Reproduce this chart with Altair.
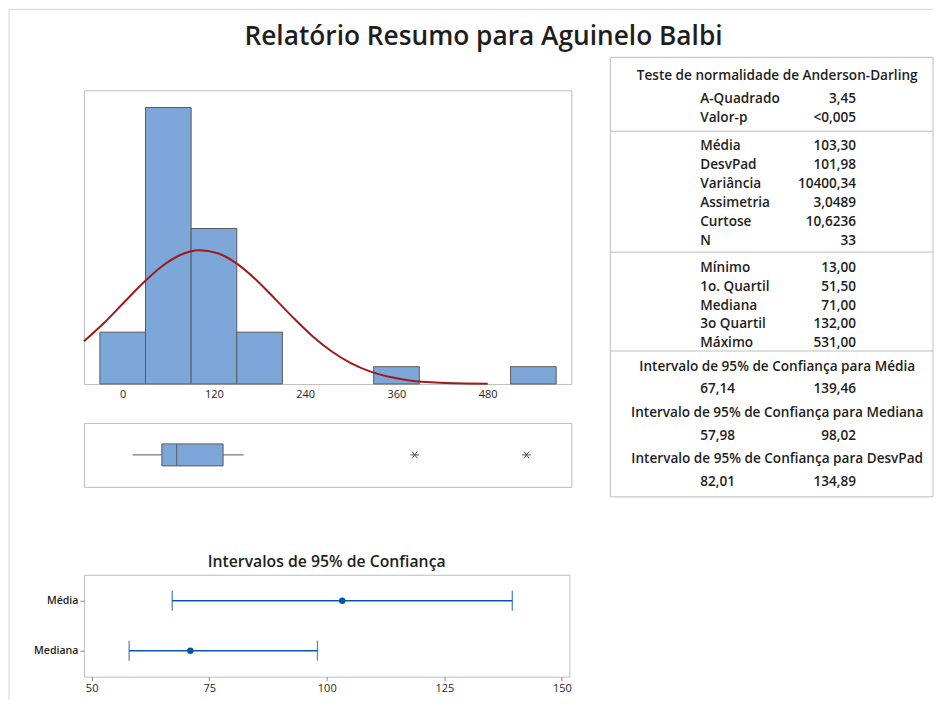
import altair as alt
import pandas as pd

# ---------------- data ----------------
bin_lo = [-30, 30, 90, 150, 330, 510]
bin_hi = [30, 90, 150, 210, 390, 570]
counts = [3, 16, 9, 3, 1, 1]

curve_x = [-51, -25, 0, 25, 50, 75, 100, 125, 150, 175, 200, 225, 250,
           275, 300, 325, 350, 375, 400, 425, 450, 480]
curve_y = [2.47, 3.51, 4.64, 5.77, 6.76, 7.45, 7.74, 7.57, 6.97, 6.05, 4.94,
           3.80, 2.75, 1.88, 1.21, 0.73, 0.42, 0.22, 0.11, 0.05, 0.02, 0.01]
hist_ticks = [0, 120, 240, 360, 480]

box_whisker_lo = 13
box_q1 = 51.5
box_median = 71
box_q3 = 132
box_whisker_hi = 159
outliers = [384, 531]

ci_labels = ["Média", "Mediana"]
ci_est = [103.30, 71.00]
ci_lo = [67.14, 57.98]
ci_hi = [139.46, 98.02]
ci_ticks = [50, 75, 100, 125, 150]

title_text = "Relatório Resumo para Aguinelo Balbi"
ci_title = "Intervalos de 95% de Confiança"

ad_header = "Teste de normalidade de Anderson-Darling"
ad_labels = ["A-Quadrado", "Valor-p"]
ad_values = ["3,45", "<0,005"]
mom_labels = ["Média", "DesvPad", "Variância", "Assimetria", "Curtose", "N"]
mom_values = ["103,30", "101,98", "10400,34", "3,0489", "10,6236", "33"]
q_labels = ["Mínimo", "1o. Quartil", "Mediana", "3o Quartil", "Máximo"]
q_values = ["13,00", "51,50", "71,00", "132,00", "531,00"]
ci_headers = ["Intervalo de 95% de Confiança para Média",
              "Intervalo de 95% de Confiança  para Mediana",
              "Intervalo de 95% de Confiança  para DesvPad"]
ci_tab_lo = ["67,14", "57,98", "82,01"]
ci_tab_hi = ["139,46", "98,02", "134,89"]

# ---------------- styles ----------------
FONT = "Open Sans"
TXT = "#1e1e1e"
BAR = "#7da7d9"
EDGE = "#5a5a5a"
FRAME = "#bdbdbd"
CURVE = "#9e1b1b"
BLUE = "#0a56a5"
ONE = pd.DataFrame({"o": [0]})


def txt(s, x, y, align="left", size=13.6, weight=600):
    return alt.Chart(pd.DataFrame({"t": [s]})).mark_text(
        align=align, baseline="middle", fontSize=size, fontWeight=weight,
        font=FONT, color=TXT
    ).encode(text="t:N", x=alt.value(x), y=alt.value(y))


def hline(x1, x2, y, color=FRAME):
    return alt.Chart(ONE).mark_rule(color=color, strokeWidth=1).encode(
        x=alt.value(x1), x2=alt.value(x2), y=alt.value(y))


def vline(x, y1, y2, color=FRAME):
    return alt.Chart(ONE).mark_rule(color=color, strokeWidth=1).encode(
        x=alt.value(x), y=alt.value(y1), y2=alt.value(y2))


# ---------------- histogram ----------------
HX = alt.Scale(domain=[-51, 590], nice=False, zero=False)
HY = alt.Scale(domain=[0, 17], nice=False, zero=True)

hist_df = pd.DataFrame({"lo": bin_lo, "hi": bin_hi, "n": counts})
curve_df = pd.DataFrame({"x": curve_x, "y": curve_y})

bars = alt.Chart(hist_df).mark_rect(fill=BAR, stroke=EDGE, strokeWidth=1).encode(
    x=alt.X("lo:Q", scale=HX, axis=alt.Axis(values=hist_ticks, domain=False, ticks=False,
                                            grid=False, title=None, labelFontSize=11,
                                            labelColor=TXT, labelFont=FONT, labelPadding=5)),
    x2="hi:Q",
    y=alt.Y("n:Q", scale=HY, axis=None),
    y2=alt.datum(0),
)
curve = alt.Chart(curve_df).mark_line(color=CURVE, strokeWidth=2, interpolate="monotone").encode(
    x=alt.X("x:Q", scale=HX), y=alt.Y("y:Q", scale=HY))

# stats table (positions relative to the histogram plot origin)
T_LEFT, T_RIGHT, T_TOP, T_BOT = 527, 850, -33, 407
LBL_X, VAL_X, MID_X = 617, 773, 694
layers = []
layers += [hline(T_LEFT, T_RIGHT, T_TOP), hline(T_LEFT, T_RIGHT, T_BOT),
           vline(T_LEFT, T_TOP, T_BOT), vline(T_RIGHT, T_TOP, T_BOT)]
for ys in [41, 162, 261]:
    layers.append(hline(T_LEFT, T_RIGHT, ys))

layers.append(txt(ad_header, MID_X, -14, align="center"))
for i, (l, v) in enumerate(zip(ad_labels, ad_values)):
    layers += [txt(l, LBL_X, 9 + 19 * i), txt(v, VAL_X, 9 + 19 * i, align="right")]
for i, (l, v) in enumerate(zip(mom_labels, mom_values)):
    layers += [txt(l, LBL_X, 56 + 19 * i), txt(v, VAL_X, 56 + 19 * i, align="right")]
for i, (l, v) in enumerate(zip(q_labels, q_values)):
    layers += [txt(l, LBL_X, 178 + 18.8 * i), txt(v, VAL_X, 178 + 18.8 * i, align="right")]
for i, (h, lo, hi) in enumerate(zip(ci_headers, ci_tab_lo, ci_tab_hi)):
    yh = 277 + 46.2 * i
    layers += [txt(h, MID_X, yh, align="center"),
               txt(lo, LBL_X, yh + 22.5), txt(hi, VAL_X, yh + 22.5, align="right")]

# main title and outer frame lines
layers.append(txt(title_text, 400, -53, align="center", size=26.3, weight=600))
layers.append(hline(-75, 850, -81, "#d4d4d4"))
layers.append(vline(-75, -81, 610, "#d4d4d4"))

hist = alt.layer(bars, curve, *layers).properties(width=488, height=294)

# ---------------- box plot ----------------
box_df = pd.DataFrame({"lo": [box_whisker_lo], "q1": [box_q1], "med": [box_median],
                       "q3": [box_q3], "hi": [box_whisker_hi]})
out_df = pd.DataFrame({"v": outliers})
ASTER = "M-1,0L1,0M-0.6,-0.8L0.6,0.8M-0.6,0.8L0.6,-0.8"

wl = alt.Chart(box_df).mark_rule(color=EDGE).encode(
    x=alt.X("lo:Q", scale=HX, axis=None), x2="q1:Q", y=alt.value(32))
wr = alt.Chart(box_df).mark_rule(color=EDGE).encode(
    x=alt.X("q3:Q", scale=HX, axis=None), x2="hi:Q", y=alt.value(32))
bx = alt.Chart(box_df).mark_rect(fill=BAR, stroke=EDGE, strokeWidth=1).encode(
    x=alt.X("q1:Q", scale=HX, axis=None), x2="q3:Q", y=alt.value(21), y2=alt.value(43))
md = alt.Chart(box_df).mark_rule(color=EDGE, strokeWidth=1).encode(
    x=alt.X("med:Q", scale=HX, axis=None), y=alt.value(21), y2=alt.value(43))
ol = alt.Chart(out_df).mark_point(shape=ASTER, size=75, stroke="#555555", strokeWidth=1,
                                  filled=False, opacity=1).encode(
    x=alt.X("v:Q", scale=HX, axis=None), y=alt.value(32))
box = alt.layer(wl, wr, bx, md, ol).properties(width=488, height=64)

# ---------------- spacer ----------------
spacer = alt.Chart(ONE).mark_point(opacity=0).encode(
    x=alt.X("o:Q", axis=None), y=alt.Y("o:Q", axis=None)
).properties(width=488, height=10, view=alt.ViewBackground(strokeOpacity=0))

# ---------------- confidence intervals ----------------
ci_df = pd.DataFrame({"lab": ci_labels, "est": ci_est, "lo": ci_lo, "hi": ci_hi})
CX = alt.Scale(domain=[48.36, 151.6], nice=False, zero=False)
CY = alt.Scale(type="point", padding=0.52, domain=ci_labels)
xax = alt.Axis(values=ci_ticks, domain=False, grid=False, tickSize=4, tickColor="#8c8c8c",
               labelFontSize=11, labelColor=TXT, labelFont=FONT, title=None, labelPadding=2)
yax = alt.Axis(domain=False, grid=False, tickSize=4, tickColor="#8c8c8c", labelFontSize=10.6,
               labelFontWeight=600, labelColor=TXT, labelFont=FONT, title=None, labelPadding=2)

ci_rule = alt.Chart(ci_df).mark_rule(color=BLUE, strokeWidth=1.5).encode(
    x=alt.X("lo:Q", scale=CX, axis=xax), x2="hi:Q",
    y=alt.Y("lab:N", scale=CY, axis=yax, sort=ci_labels))
cap_lo = alt.Chart(ci_df).mark_tick(orient="vertical", size=20, thickness=1.3, color=BLUE).encode(
    x=alt.X("lo:Q", scale=CX), y=alt.Y("lab:N", scale=CY, sort=ci_labels))
cap_hi = alt.Chart(ci_df).mark_tick(orient="vertical", size=20, thickness=1.3, color=BLUE).encode(
    x=alt.X("hi:Q", scale=CX), y=alt.Y("lab:N", scale=CY, sort=ci_labels))
ci_pts = alt.Chart(ci_df).mark_point(filled=True, size=42, color=BLUE, opacity=1).encode(
    x=alt.X("est:Q", scale=CX), y=alt.Y("lab:N", scale=CY, sort=ci_labels))

ci = alt.layer(ci_rule, cap_lo, cap_hi, ci_pts).properties(
    width=486, height=102,
    title=alt.TitleParams(ci_title, fontSize=15.8, fontWeight=600, font=FONT, color=TXT, offset=4))

chart = alt.vconcat(hist, box, spacer, ci, spacing=39, bounds="flush").properties(
    padding={"left": 0, "top": 0, "right": 0, "bottom": 0},
    background="white",
).configure_view(stroke=FRAME, strokeWidth=1)

chart.save("out.html", embed_options={"renderer": "svg", "actions": False})
